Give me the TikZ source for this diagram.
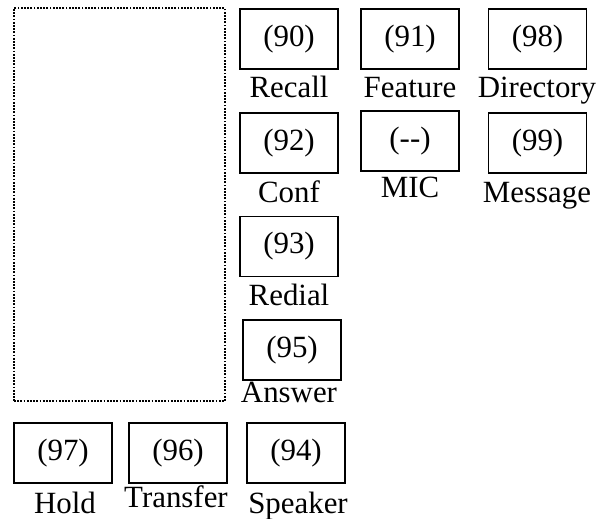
\documentclass[tikz,border=0pt]{standalone}
\usepackage{fontspec}
\setmainfont{Liberation Serif}
\usepackage{tikz}
\usetikzlibrary{positioning}
\tikzstyle{key} = [rectangle, draw=black, line width=1.4bp,
    minimum width=98bp, minimum height=60bp, inner sep=0pt,
    font=\fontsize{31}{37}\selectfont]
\tikzstyle{keyname} = [anchor=base, inner sep=0pt, font=\fontsize{31}{37}\selectfont]
\tikzstyle{screen} = [rectangle, draw=black, line width=1.8bp,
    dash pattern=on 1.8bp off 1.4bp, minimum width=211bp, minimum height=393bp]

\begin{document}
\begin{tikzpicture}[x=1bp, y=-1bp]
        \useasboundingbox (0,0) rectangle (608,519);
        % display area
        \node (display) [screen] at (119.5,204.5) {};
        % right hand keys
        \node (recall) [key] at (289,39) {(90)};
        \node (feature) [key] at (410,39) {(91)};
        \node (directory) [key] at (537.5,39) {(98)};
        \node (conf) [key] at (289,143) {(92)};
        \node (mic) [key] at (410,141) {(-{}-)};
        \node (message) [key] at (537.5,143) {(99)};
        \node (redial) [key] at (289,246.5) {(93)};
        \node (answer) [key] at (292,350) {(95)};
        % bottom keys
        \node (hold) [key] at (63,453) {(97)};
        \node (transfer) [key] at (178,453) {(96)};
        \node (speaker) [key] at (296,453) {(94)};
        % key names
        \node (recallName) [keyname] at (289,98) {Recall};
        \node (featureName) [keyname] at (410,98) {Feature};
        \node (directoryName) [keyname] at (537,98) {Directory};
        \node (confName) [keyname] at (289,203) {Conf};
        \node (micName) [keyname] at (410,198) {MIC};
        \node (messageName) [keyname] at (537,203) {Message};
        \node (redialName) [keyname] at (289,305) {Redial};
        \node (answerName) [keyname] at (289,402) {Answer};
        \node (holdName) [keyname] at (65,513) {Hold};
        \node (transferName) [keyname] at (176,507) {Transfer};
        \node (speakerName) [keyname] at (298,513) {Speaker};
    \end{tikzpicture}
\end{document}
